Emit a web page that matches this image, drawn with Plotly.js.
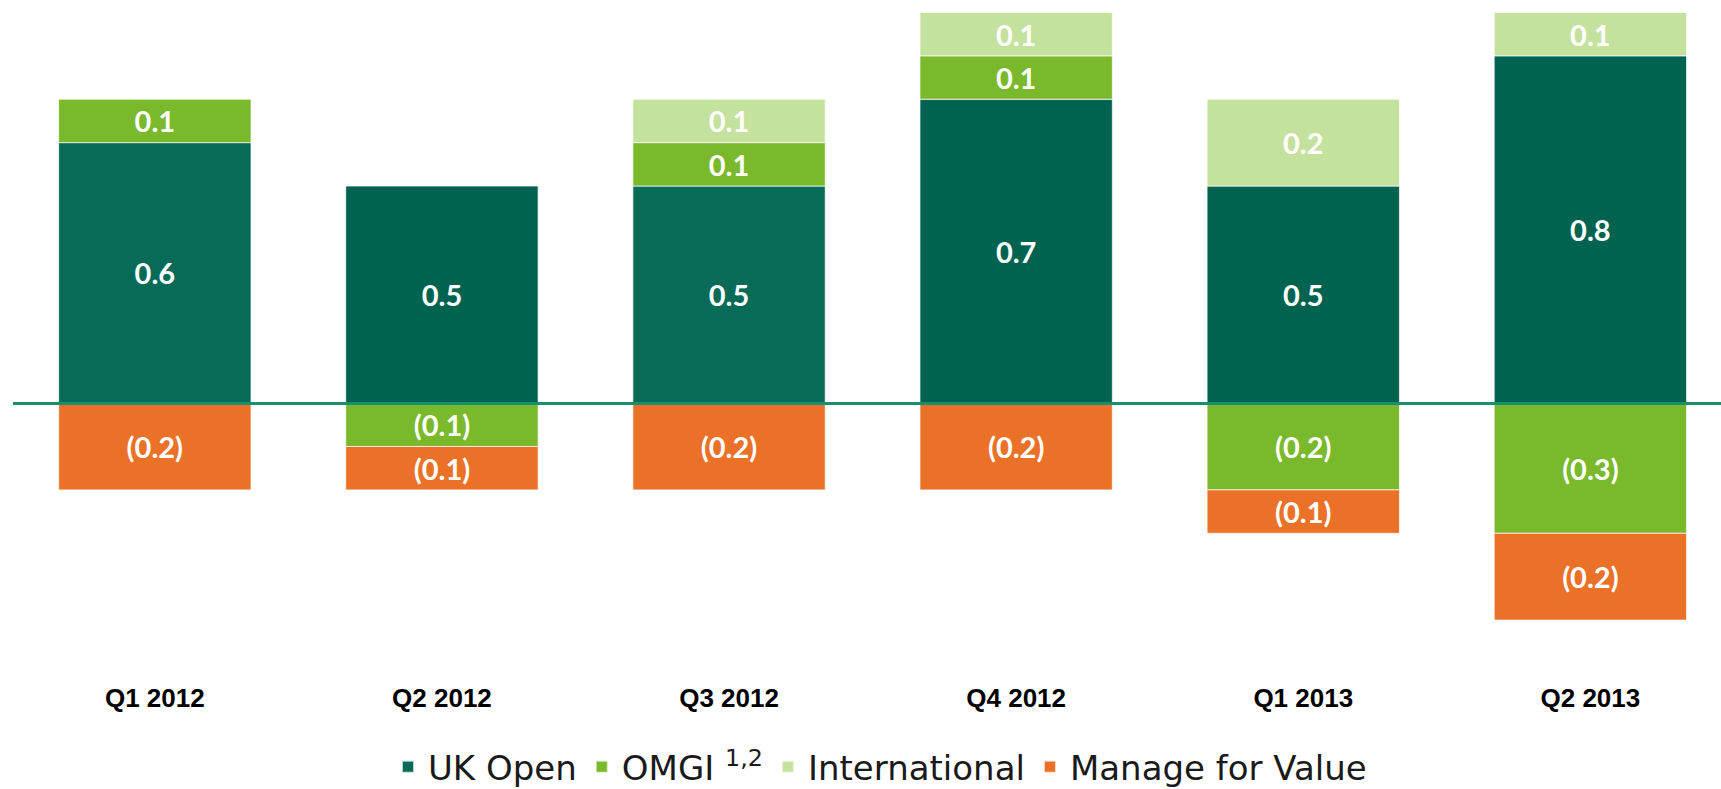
<!DOCTYPE html>
<html>
<head>
<meta charset="utf-8">
<script src="https://cdn.plot.ly/plotly-3.0.1.min.js"></script>
<style>
  html, body { margin: 0; padding: 0; background: #ffffff; }
  #chart { width: 1721px; height: 789px; }
</style>
</head>
<body>
<div id="chart"></div>
<script>
const categories = ['Q1 2012', 'Q2 2012', 'Q3 2012', 'Q4 2012', 'Q1 2013', 'Q2 2013'];
const ukOpen = [0.6, 0.5, 0.5, 0.7, 0.5, 0.8];
const omgi = [0.1, -0.1, 0.1, 0.1, -0.2, -0.3];
const international = [0, 0, 0.1, 0.1, 0.2, 0.1];
const manageForValue = [-0.2, -0.1, -0.2, -0.2, -0.1, -0.2];
const seriesNames = ['UK Open', 'OMGI <sup>1,2</sup>', 'International', 'Manage for Value'];

const ukColors = ['#076b58', '#00634f', '#076b58', '#00634f', '#00634f', '#00634f'];
const colors = ['#00634f', '#79b92b', '#c4e29e', '#ec7128'];

function fmt(v) {
  if (v === 0 || v === null) return '';
  const s = Math.abs(v).toFixed(1);
  return v < 0 ? '(' + s + ')' : s;
}

const seriesValues = [ukOpen, omgi, international, manageForValue];
const traces = seriesValues.map((vals, i) => ({
  type: 'bar',
  name: seriesNames[i],
  x: categories,
  y: vals.map(v => (v === 0 ? null : v)),
  text: vals.map(fmt),
  textposition: 'inside',
  insidetextanchor: 'middle',
  textangle: 0,
  constraintext: 'none',
  insidetextfont: { family: 'Lato, "Open Sans", sans-serif', size: 29, color: '#ffffff', weight: 'bold' },
  marker: {
    color: i === 0 ? ukColors : colors[i],
    line: { color: 'rgba(255,255,255,0.7)', width: 1 }
  },
  hoverinfo: 'skip'
}));

const layout = {
  width: 1721,
  height: 789,
  margin: { l: 13, r: 0, t: 0, b: 109, autoexpand: false },
  paper_bgcolor: '#ffffff',
  plot_bgcolor: '#ffffff',
  barmode: 'relative',
  bargap: 0.33,
  showlegend: true,
  legend: {
    orientation: 'h',
    x: 0.5076,
    xanchor: 'center',
    y: -0.128,
    yanchor: 'middle',
    font: { family: '"DejaVu Sans", sans-serif', size: 34, color: '#1a1a1a' },
    traceorder: 'normal',
    itemsizing: 'constant'
  },
  xaxis: {
    type: 'category',
    range: [-0.494, 5.455],
    showgrid: false,
    showline: false,
    zeroline: false,
    ticks: '',
    tickfont: { family: '"Liberation Sans", Arial, sans-serif', size: 26, color: '#000000', weight: 'bold' },
    fixedrange: true
  },
  yaxis: {
    range: [-0.638, 0.9286],
    showgrid: false,
    showticklabels: false,
    ticks: '',
    zeroline: true,
    zerolinecolor: '#15916f',
    zerolinewidth: 3,
    layer: 'above traces',
    zerolinelayer: 'above traces',
    fixedrange: true
  }
};

Plotly.newPlot('chart', traces, layout, { displayModeBar: false, staticPlot: true });
</script>
</body>
</html>
